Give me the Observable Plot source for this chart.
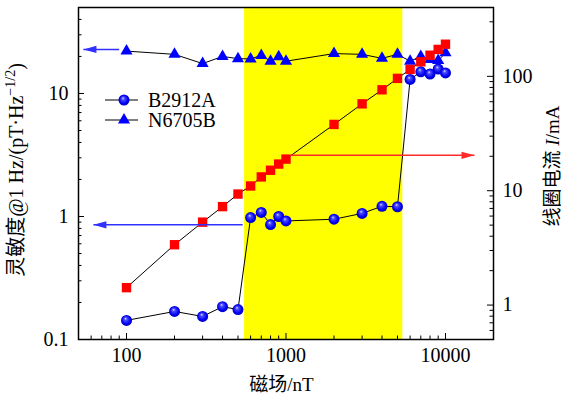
<!DOCTYPE html>
<html><head><meta charset="utf-8">
<script src="https://cdn.jsdelivr.net/npm/d3@7"></script>
<script src="https://cdn.jsdelivr.net/npm/@observablehq/plot@0.6"></script>
<style>body{margin:0;background:#fff}#chart svg{display:block}#chart svg text{font-family:'Liberation Serif','DejaVu Serif','Noto Sans CJK SC',serif}</style>
</head><body><div id="chart"></div>
<script>
// ---- data ----
const fieldNT = [100,200,300,400,500,600,700,800,900,1000,2000,3000,4000,5000,6000,7000,8000,9000,10000];
const b2912a = [0.143,0.169,0.154,0.185,0.175,0.98,1.08,0.86,1.0,0.92,0.95,1.06,1.21,1.2,13.0,15.0,14.4,15.8,14.7];
const n6705b = [22.1,20.8,17.5,20.0,19.2,19.1,20.4,18.3,19.9,18.3,21.1,20.8,19.3,20.8,18.3,20.0,18.9,18.5,21.4];
const coilCurrent = [1.42,3.37,5.31,7.26,9.35,11.0,13.2,15.1,17.1,18.9,38,57.5,76.3,96,115,134,153,172,191];
const xTicks = [100,1000,10000];
const yLeftTicks = [0.1,1,10];
const yRightTicks = [1,10,100];
const shadedBand = [{x1:550, x2:5400}];
const xDomain = [50,20000];
const yLeftDomain = [0.1,50];
const yRightDomain = [0.5,400];
// arrows (annotation): from -> to at a value on its own axis
const arrows = [
  {x1:90, x2:53.7, y:22.8, axis:"left", color:"#3030ff"},
  {x1:535, x2:62, y:0.856, axis:"left", color:"#3030ff"},
  {x1:1066, x2:15200, y:20.4, axis:"right", color:"#ff2a2a"}
];

// map right-axis values onto left (log) scale
const L0=Math.log10(yLeftDomain[0]), L1=Math.log10(yLeftDomain[1]);
const R0=Math.log10(yRightDomain[0]), R1=Math.log10(yRightDomain[1]);
const toLeft = v => Math.pow(10, L0 + (Math.log10(v)-R0)*(L1-L0)/(R1-R0));
const toRight = v => Math.pow(10, R0 + (Math.log10(v)-L0)*(R1-R0)/(L1-L0));

function minorTicks(lo, hi){
  const out=[];
  for(let e=Math.floor(Math.log10(lo)); e<=Math.ceil(Math.log10(hi)); e++){
    for(let m=1;m<=9;m++){const v=m*Math.pow(10,e); if(v>=lo*0.999&&v<=hi*1.001&&m!==1) out.push(v);}
  }
  return out;
}
const xMinor = minorTicks(xDomain[0], xDomain[1]);
const yLeftMinor = minorTicks(yLeftDomain[0], yLeftDomain[1]);
const yRightMinor = minorTicks(yRightDomain[0], yRightDomain[1]);

const rowsB = fieldNT.map((x,i)=>({x, y:b2912a[i]}));
const rowsN = fieldNT.map((x,i)=>({x, y:n6705b[i]}));
const rowsC = fieldNT.map((x,i)=>({x, y:toLeft(coilCurrent[i])}));
const arrowRows = arrows.map(a=>({...a, yl: a.axis==="right"? toLeft(a.y): a.y}));

const W=563, H=401, mL=78, mR=70, mT=7, mB=62;
const iW=W-mL-mR, iH=H-mT-mB;

const headSymbol = {draw(ctx){ ctx.moveTo(0,0); ctx.lineTo(-13,-3.6); ctx.lineTo(-13,3.6); ctx.closePath(); }};

const font = "'Liberation Serif', 'DejaVu Serif', 'Noto Sans CJK SC', serif";

const plot = Plot.plot({
  width: W, height: H,
  marginLeft: mL, marginRight: mR, marginTop: mT, marginBottom: mB,
  style: {fontFamily: font, fontSize: "20px", background: "#fff", color: "#000"},
  x: {type: "log", domain: xDomain},
  y: {type: "log", domain: yLeftDomain},
  marks: [
    Plot.rect(shadedBand, {x1:"x1", x2:"x2", fill:"#ffff00"}),
    // ticks inward
    Plot.tickX(xTicks, {x:d=>d, insetTop: iH-6, stroke:"#000", strokeWidth:1}),
    Plot.tickX(xMinor, {x:d=>d, insetTop: iH-3.5, stroke:"#000", strokeWidth:1}),
    Plot.tickY(yLeftTicks, {y:d=>d, insetRight: iW-6, stroke:"#000", strokeWidth:1}),
    Plot.tickY(yLeftMinor, {y:d=>d, insetRight: iW-3.5, stroke:"#000", strokeWidth:1}),
    Plot.tickY(yRightTicks.map(toLeft), {y:d=>d, insetLeft: iW-6, stroke:"#000", strokeWidth:1}),
    Plot.tickY(yRightMinor.map(toLeft), {y:d=>d, insetLeft: iW-3.5, stroke:"#000", strokeWidth:1}),
    Plot.axisX(xTicks, {tickSize:0, tickPadding:8, tickFormat:d=>String(d), label:null, fontSize:20}),
    Plot.axisY(yLeftTicks, {anchor:"left", tickSize:0, tickPadding:10, tickFormat:d=>String(d), label:null, fontSize:20}),
    Plot.axisY(yRightTicks.map(toLeft), {anchor:"right", tickSize:0, tickPadding:9, tickFormat:d=>String(Math.round(toRight(d))), label:null, fontSize:20}),
    // series lines
    Plot.line(rowsN, {x:"x", y:"y", stroke:"#000", strokeWidth:1}),
    Plot.line(rowsB, {x:"x", y:"y", stroke:"#000", strokeWidth:1}),
    Plot.line(rowsC, {x:"x", y:"y", stroke:"#000", strokeWidth:1}),
    // markers
    Plot.dot(rowsN, {x:"x", y:"y", symbol:"triangle", r:4.5, fill:"#0000ff", stroke:"none"}),
    Plot.dot(rowsB, {x:"x", y:"y", symbol:"circle", r:5.5, fill:"url(#sphereGrad)", stroke:"none"}),
    Plot.dot(rowsC, {x:"x", y:"y", symbol:"square", r:5.3, fill:"#ff0000", stroke:"none"}),
    // arrows
    Plot.link(arrowRows, {x1:"x1", x2:"x2", y1:"yl", y2:"yl", stroke:"color", strokeWidth:1.6}),
    Plot.dot(arrowRows, {x:"x2", y:"yl", symbol: headSymbol, fill:"color", stroke:"none", rotate: d=> d.x2>d.x1?0:180}),
    Plot.frame({stroke:"#000", strokeWidth:1.5})
  ]
});

const svg = d3.select(plot);
const defs = svg.append("defs");
const g = defs.append("radialGradient").attr("id","sphereGrad").attr("cx","50%").attr("cy","50%").attr("r","55%").attr("fx","40%").attr("fy","32%");
g.append("stop").attr("offset","0%").attr("stop-color","#dcdcff");
g.append("stop").attr("offset","25%").attr("stop-color","#4a4aff");
g.append("stop").attr("offset","70%").attr("stop-color","#0000f0");
g.append("stop").attr("offset","100%").attr("stop-color","#0000b8");

// legend
const leg = svg.append("g").attr("font-family", font).attr("font-size", 20).attr("text-anchor","start");
const legendItems = [{name:"B2912A", sym:"circle"},{name:"N6705B", sym:"triangle"}];
legendItems.forEach((it,i)=>{
  const yy = 100 + i*20;
  leg.append("line").attr("x1",105).attr("x2",138).attr("y1",yy).attr("y2",yy).attr("stroke","#000").attr("stroke-width",1);
  if(it.sym==="circle") leg.append("circle").attr("cx",124).attr("cy",yy).attr("r",5.5).attr("fill","url(#sphereGrad)");
  else leg.append("path").attr("d", d3.symbol(d3.symbolTriangle, Math.PI*4.5*4.5)()).attr("transform",`translate(124,${yy})`).attr("fill","#0000ff");
  leg.append("text").attr("x",148).attr("y",yy+7).attr("text-anchor","start").text(it.name);
});

// axis titles
const titles = svg.append("g").attr("font-family", font).attr("fill","#000");
titles.append("text").attr("x", mL+iW/2-4).attr("y", 391).attr("text-anchor","middle").attr("font-size",19).text("磁场/nT");
const lt = titles.append("text").attr("transform",`translate(23,${mT+iH/2-3}) rotate(-90)`).attr("text-anchor","middle").attr("font-size",20);
lt.append("tspan").text("灵敏度@1 Hz/(pT·Hz");
lt.append("tspan").attr("font-size",14).attr("dy",-8).text("−1/2");
lt.append("tspan").attr("dy",8).text(")");
const rt = titles.append("text").attr("transform",`translate(559,${mT+iH/2-7}) rotate(-90)`).attr("text-anchor","middle").attr("font-size",19);
rt.append("tspan").text("线圈电流 ");
rt.append("tspan").attr("font-style","italic").text("I");
rt.append("tspan").text("/mA");

document.getElementById("chart").appendChild(plot);
</script>
</body></html>
